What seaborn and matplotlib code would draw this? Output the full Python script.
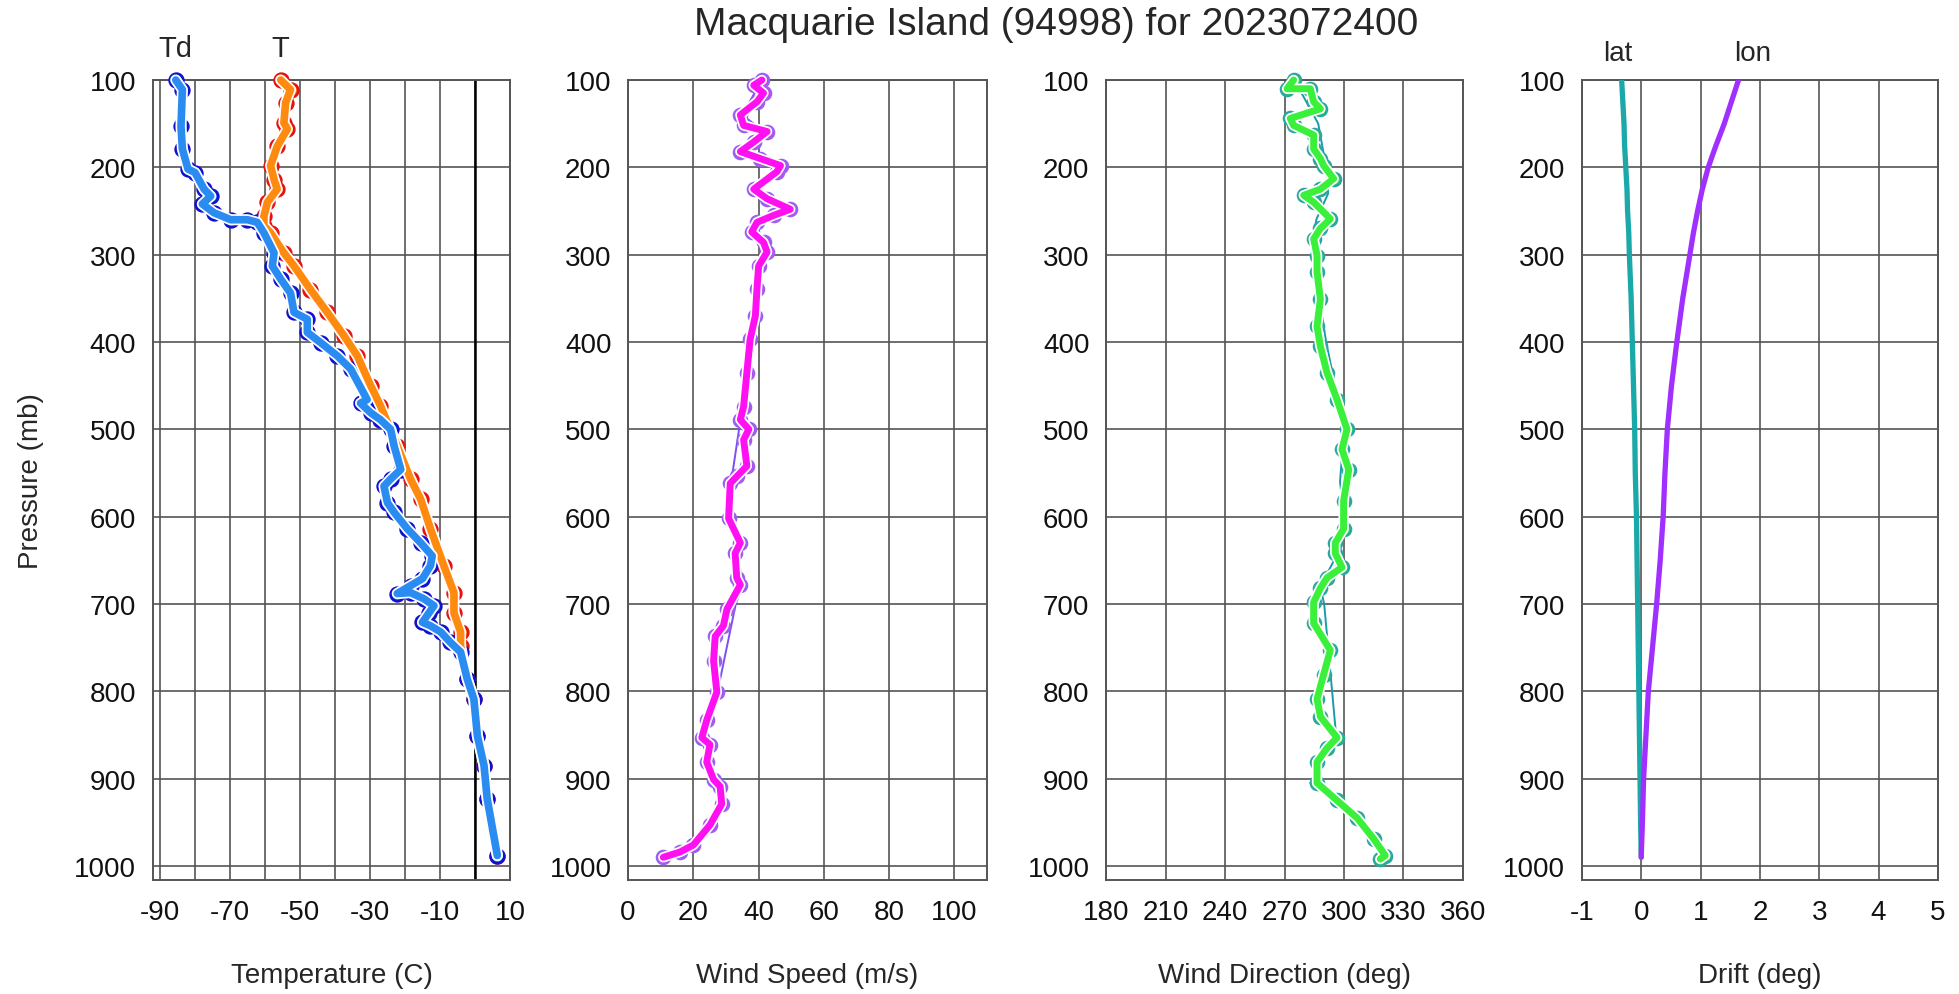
"""Sounding profile panels for Macquarie Island using Seaborn."""

import matplotlib
matplotlib.use("Agg")
import matplotlib.pyplot as plt
import matplotlib.patheffects as pe
import seaborn as sns

TITLE = "Macquarie Island (94998) for 2023072400"
PRESSURE_TICKS = [100, 200, 300, 400, 500, 600, 700, 800, 900, 1000]

# temperature (C) against pressure (mb)
T_P = [100, 111, 126, 149, 156, 176, 198, 214, 225, 240, 256, 267, 275, 298, 313,
       340, 366, 393, 416, 450, 473, 519, 557, 580, 614, 656, 687, 710, 732, 748,
       786, 809, 851, 885, 923, 988]
T_C = [-55.5, -52.7, -54.1, -54.6, -53.6, -56.5, -58.4, -57.4, -56.5, -59.3, -60.3,
       -60.3, -58.4, -54.6, -51.7, -47.0, -42.2, -37.4, -33.6, -29.8, -27.0, -22.2,
       -18.4, -15.5, -12.7, -8.9, -6.0, -6.0, -4.1, -4.1, -2.2, -0.3, 0.7, 2.6,
       3.5, 6.4]

# dew point (C) against pressure (mb)
TD_P = [100, 111, 153, 179, 202, 206, 225, 233, 242, 252, 260, 260, 263, 275, 298,
        313, 328, 344, 366, 374, 389, 401, 416, 431, 466, 470, 481, 489, 500, 519,
        546, 557, 565, 584, 595, 614, 630, 645, 656, 671, 679, 688, 687, 694, 702,
        710, 721, 725, 732, 744, 755, 786, 809, 851, 885, 923, 988]
TD_C = [-85.5, -83.6, -84.0, -83.6, -82.0, -80.0, -77.4, -75.5, -77.9, -74.6, -69.8,
        -65.0, -62.2, -60.3, -57.4, -57.9, -55.5, -52.7, -51.7, -47.9, -47.9, -44.0,
        -39.3, -35.5, -30.8, -32.7, -29.8, -27.0, -24.1, -23.1, -21.2, -24.1, -26.0,
        -25.0, -23.1, -19.3, -15.5, -12.2, -12.7, -15.0, -18.4, -22.2, -18.4, -14.6,
        -11.7, -13.1, -15.0, -12.7, -9.8, -7.0, -4.1, -2.2, -0.3, 0.7, 2.6, 3.5, 6.4]

# wind speed (m/s)
WS_P = [100, 106, 115, 125, 140, 152, 159, 171, 182, 190, 198, 205, 225, 236, 248,
        255, 263, 274, 286, 297, 313, 339, 370, 397, 435, 474, 489, 500, 512, 542,
        554, 562, 602, 630, 642, 670, 678, 706, 725, 737, 765, 801, 833, 853, 861,
        881, 901, 909, 929, 953, 976, 984, 990]
WS_VALS = [41.0, 38.5, 41.5, 39.5, 34.4, 35.4, 42.6, 38.5, 34.4, 40.5, 46.7, 45.6,
           38.5, 42.6, 49.7, 44.6, 39.5, 37.9, 41.5, 42.6, 40.0, 39.5, 39.0, 37.4,
           36.4, 35.4, 34.4, 37.0, 35.4, 36.4, 33.3, 31.3, 30.8, 34.4, 32.8, 33.3,
           34.4, 30.3, 29.2, 26.7, 26.2, 27.2, 24.1, 22.6, 25.1, 24.1, 26.2, 28.2,
           28.7, 25.1, 20.0, 15.9, 10.8]
WS_RAW_P = [100, 140, 160, 180, 200, 230, 250, 270, 300, 400, 500, 575, 600, 650,
            680, 700, 790, 850, 900, 930, 980, 990]
WS_RAW = [41, 35, 42, 35, 46, 38, 49, 38, 42, 37, 34, 31, 32, 34, 35, 33, 28, 23,
          26, 30, 20, 10]

# wind direction (deg)
WD_P = [100, 110, 110, 125, 133, 144, 152, 163, 179, 190, 198, 213, 225, 232, 240,
        259, 270, 282, 301, 320, 351, 382, 405, 435, 466, 500, 523, 546, 582, 614,
        630, 642, 658, 670, 682, 698, 722, 753, 781, 809, 829, 853, 865, 881, 905,
        925, 945, 969, 988, 992]
WD_VALS = [274.6, 271.3, 283.0, 284.7, 288.1, 272.9, 274.6, 284.7, 284.7, 288.1,
           289.7, 294.8, 288.1, 279.7, 284.7, 293.1, 288.1, 284.7, 286.4, 286.4,
           288.1, 286.4, 288.1, 291.4, 296.5, 301.5, 299.0, 302.4, 299.8, 299.8,
           295.6, 295.6, 299.0, 291.4, 288.1, 284.7, 284.7, 293.1, 289.7, 286.4,
           288.1, 296.5, 291.4, 286.4, 286.4, 296.5, 306.6, 315.0, 320.8, 318.3]
WD_RAW_P = [100, 150, 200, 230, 260, 300, 400, 500, 560, 600, 650, 680, 700, 850,
            870, 905, 930, 970, 990]
WD_RAW = [275, 287, 291, 292, 286, 284, 291, 300, 298, 300, 295, 288, 290, 296,
          290, 283, 300, 315, 320]

# balloon drift (deg)
DRIFT_P = [100, 125, 150, 175, 200, 225, 250, 275, 300, 350, 400, 450, 500, 550,
           600, 650, 700, 750, 800, 850, 900, 950, 990]
DRIFT_LAT = [-0.33, -0.31, -0.29, -0.28, -0.26, -0.24, -0.23, -0.21, -0.20, -0.17,
             -0.15, -0.13, -0.11, -0.10, -0.08, -0.07, -0.06, -0.05, -0.04, -0.03,
             -0.02, -0.01, 0.0]
DRIFT_LON = [1.64, 1.52, 1.40, 1.26, 1.13, 1.03, 0.95, 0.88, 0.82, 0.70, 0.60, 0.51,
             0.44, 0.40, 0.37, 0.32, 0.26, 0.19, 0.12, 0.08, 0.04, 0.02, 0.0]

GRID = "#555555"


def style_axis(ax, xlim, xticks, xlabels, xlabel):
    """Apply the gridded sounding look to one panel."""
    ax.set_xlim(*xlim)
    ax.set_ylim(1016, 100)
    ax.set_xticks(xticks)
    ax.set_xticklabels(xlabels)
    ax.set_yticks(PRESSURE_TICKS)
    ax.grid(True, color=GRID, linewidth=1.2)
    ax.set_axisbelow(True)
    for spine in ax.spines.values():
        spine.set_color(GRID)
        spine.set_linewidth(1.4)
    ax.tick_params(length=0, labelsize=20, pad=12, colors="#111111")
    ax.tick_params(axis="x", pad=14)
    ax.set_xlabel(xlabel, fontsize=20, labelpad=26)
    ax.set_ylabel("")


def draw_profile(ax, p, vals, color, edge, lw=5.5, s=95):
    """Markers with coloured rims under a thick haloed line."""
    sns.scatterplot(x=vals, y=p, ax=ax, color=color, edgecolor=edge, linewidth=2.0,
                    s=s, zorder=3, clip_on=False, legend=False)
    sns.lineplot(x=vals, y=p, ax=ax, sort=False, estimator=None, color=color, lw=lw,
                 zorder=4, clip_on=False, solid_capstyle="round", solid_joinstyle="round",
                 path_effects=[pe.Stroke(linewidth=lw + 2.5, foreground="white"), pe.Normal()])


def main():
    sns.set_style("white")
    plt.rcParams["font.family"] = ["Liberation Sans", "DejaVu Sans"]

    fig = plt.figure(figsize=(19.59, 9.95), dpi=100)
    bottom, height = 0.1146, 0.804
    ax_t = fig.add_axes([0.0781, bottom, 0.1822, height])
    ax_s = fig.add_axes([0.3206, bottom, 0.1833, height])
    ax_d = fig.add_axes([0.5646, bottom, 0.1822, height])
    ax_f = fig.add_axes([0.8075, bottom, 0.1817, height])

    # temperature panel: T first, dew point drawn over it
    draw_profile(ax_t, T_P, T_C, "#ff8a10", "#e81010")
    draw_profile(ax_t, TD_P, TD_C, "#2a8cf0", "#1010d0")
    temp_ticks = list(range(-90, 11, 10))
    temp_labels = [str(t) if t % 20 != 0 else "" for t in temp_ticks]
    style_axis(ax_t, (-92, 10), temp_ticks, temp_labels, "Temperature (C)")
    ax_t.axvline(0, color="black", lw=1.8, zorder=1)
    ax_t.set_ylabel("Pressure (mb)", fontsize=20, labelpad=22)
    ax_t.annotate("Td", xy=(TD_C[0], 100), xytext=(0, 13), textcoords="offset points",
                  ha="center", va="bottom", fontsize=21)
    ax_t.annotate("T", xy=(T_C[0], 100), xytext=(0, 13), textcoords="offset points",
                  ha="center", va="bottom", fontsize=21)

    # wind speed panel
    sns.lineplot(x=WS_RAW, y=WS_RAW_P, ax=ax_s, sort=False, estimator=None,
                 color="#7a50f0", lw=1.4, zorder=2, clip_on=False)
    draw_profile(ax_s, WS_P, WS_VALS, "#ff10f0", "#9a60f0", lw=5.0, s=85)
    ws_ticks = [0, 20, 40, 60, 80, 100]
    style_axis(ax_s, (0, 110), ws_ticks, [str(t) for t in ws_ticks], "Wind Speed (m/s)")

    # wind direction panel
    sns.lineplot(x=WD_RAW, y=WD_RAW_P, ax=ax_d, sort=False, estimator=None,
                 color="#1a9ca8", lw=1.4, zorder=2, clip_on=False)
    draw_profile(ax_d, WD_P, WD_VALS, "#3af03a", "#2aa8a0", lw=5.0, s=85)
    wd_ticks = list(range(180, 361, 30))
    style_axis(ax_d, (180, 360), wd_ticks, [str(t) for t in wd_ticks], "Wind Direction (deg)")

    # drift panel
    sns.lineplot(x=DRIFT_LAT, y=DRIFT_P, ax=ax_f, sort=False, estimator=None,
                 color="#1aa8a8", lw=3.8, zorder=3, solid_joinstyle="round")
    sns.lineplot(x=DRIFT_LON, y=DRIFT_P, ax=ax_f, sort=False, estimator=None,
                 color="#a030ff", lw=3.8, zorder=3, solid_joinstyle="round")
    drift_ticks = list(range(-1, 6))
    style_axis(ax_f, (-1, 5), drift_ticks, [str(t) for t in drift_ticks], "Drift (deg)")
    ax_f.annotate("lat", xy=(DRIFT_LAT[0], 100), xytext=(-3, 10), textcoords="offset points",
                  ha="center", va="bottom", fontsize=20)
    ax_f.annotate("lon", xy=(DRIFT_LON[0], 100), xytext=(10, 10), textcoords="offset points",
                  ha="center", va="bottom", fontsize=20)

    fig.text(0.539, 0.975, TITLE, ha="center", va="center", fontsize=28)
    fig.savefig("out.png", dpi=100, facecolor="white")
    plt.close(fig)


if __name__ == "__main__":
    main()
